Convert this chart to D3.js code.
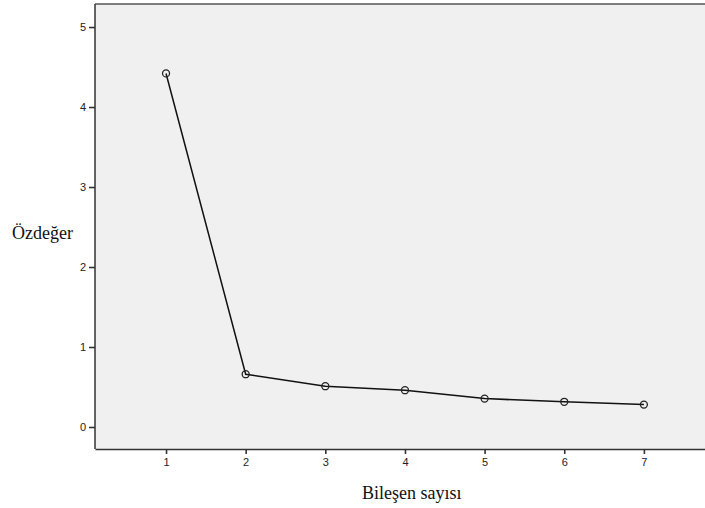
<!DOCTYPE html>
<html>
<head>
<meta charset="utf-8">
<script src="https://cdn.jsdelivr.net/npm/d3@7"></script>
<style>
  body { margin: 0; background: #fff; }
</style>
</head>
<body>
<script>
// bileşen numaraları ve özdeğerler
const bilesenler = [1, 2, 3, 4, 5, 6, 7];
const ozdegerler = [4.42, 0.66, 0.51, 0.46, 0.355, 0.315, 0.28];
const yTicks = [0, 1, 2, 3, 4, 5];

const width = 705, height = 508;
const pLeft = 95, pTop = 4, pRight = 706, pBottom = 449;

const svg = d3.select("body").append("svg")
    .attr("width", width).attr("height", height);

const x = d3.scaleLinear().domain([0.108, 7.78]).range([pLeft, pRight]);
const y = d3.scaleLinear().domain([-0.275, 5.288]).range([pBottom, pTop]);

// arka plan
svg.append("rect")
    .attr("x", pLeft).attr("y", pTop)
    .attr("width", pRight - pLeft).attr("height", pBottom - pTop)
    .attr("fill", "#f0f0f0");

// kenarlar
svg.append("line").attr("x1", pLeft).attr("x2", pRight).attr("y1", pTop).attr("y2", pTop)
    .attr("stroke", "#555").attr("stroke-width", 1.5);
svg.append("line").attr("x1", pLeft).attr("x2", pLeft).attr("y1", pTop).attr("y2", pBottom)
    .attr("stroke", "#333").attr("stroke-width", 1.5);

const xAxis = svg.append("g")
    .attr("transform", `translate(0,${pBottom})`)
    .call(d3.axisBottom(x).tickValues(bilesenler).tickSize(5).tickSizeOuter(0)
        .tickPadding(4).tickFormat(d3.format("d")));
xAxis.select(".domain").attr("stroke", "#333").attr("stroke-width", 1.5);

const yAxis = svg.append("g")
    .attr("transform", `translate(${pLeft},0)`)
    .call(d3.axisLeft(y).tickValues(yTicks).tickSize(6).tickSizeOuter(0)
        .tickPadding(3).tickFormat(d3.format("d")));
yAxis.select(".domain").remove();

svg.selectAll(".tick line").attr("stroke", "#333").attr("stroke-width", 1.6);
svg.selectAll(".tick text")
    .attr("fill", "#222")
    .style("font-family", "Liberation Sans, Arial, sans-serif")
    .style("font-size", "11px");

const line = d3.line()
    .x((d, i) => x(bilesenler[i]))
    .y(d => y(d));

svg.append("path")
    .datum(ozdegerler)
    .attr("d", line)
    .attr("fill", "none")
    .attr("stroke", "#111")
    .attr("stroke-width", 1.5);

svg.selectAll("circle.pt")
    .data(ozdegerler)
    .enter()
    .append("circle")
    .attr("class", "pt")
    .attr("cx", (d, i) => x(bilesenler[i]))
    .attr("cy", d => y(d))
    .attr("r", 3.5)
    .attr("fill", "none")
    .attr("stroke", "#222")
    .attr("stroke-width", 1.3);

svg.append("text")
    .attr("x", 12).attr("y", 239)
    .style("font-family", "Liberation Serif, Times New Roman, serif")
    .style("font-size", "18px")
    .attr("fill", "#111")
    .text("Özdeğer");

svg.append("text")
    .attr("x", 362).attr("y", 499)
    .style("font-family", "Liberation Serif, Times New Roman, serif")
    .style("font-size", "18px")
    .attr("fill", "#111")
    .text("Bileşen sayısı");
</script>
</body>
</html>
